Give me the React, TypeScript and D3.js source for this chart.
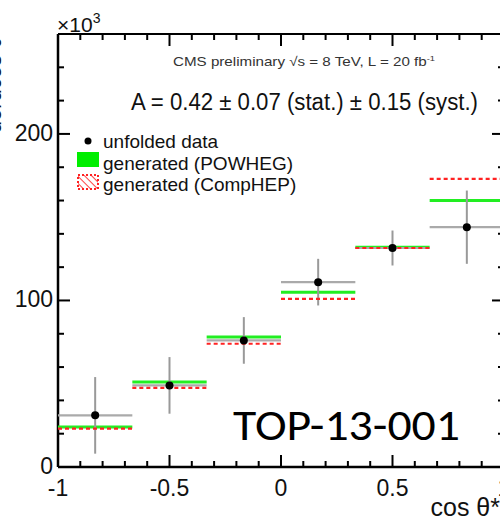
import React from "react";
import { scaleLinear, range } from "d3";

// unfolded cos(theta*) distribution, values in units of 10^3
const binEdges = [-1, -2 / 3, -1 / 3, 0, 1 / 3, 2 / 3, 1];
const dataValues = [31, 49, 76, 111, 131.5, 144];
const dataErrors = [23, 17, 14, 14, 10.5, 22];
const powheg = [24, 51, 78, 105, 132, 160];
const comphep = [23, 47.5, 74, 101, 131.5, 173];

const xTickLabels = [-1, -0.5, 0, 0.5, 1];
const yTickLabels = [0, 100, 200];

const legendItems = ["unfolded data", "generated (POWHEG)", "generated (CompHEP)"];

const W = 500;
const H = 521;
const left = 58;
const right = 504;
const top = 34;
const bottom = 467;

export default function App() {
  const x = scaleLinear().domain([-1, 1]).range([left, right]);
  const y = scaleLinear().domain([0, 260]).range([bottom, top]);

  const xMinor = range(-1, 1.0001, 0.1).map((d) => Math.round(d * 10) / 10);
  const yMinor = range(0, 261, 20);
  const font = "'Liberation Sans', Arial, sans-serif";

  const bins = dataValues.map((v, i) => ({
    x0: binEdges[i],
    x1: binEdges[i + 1],
    xc: (binEdges[i] + binEdges[i + 1]) / 2,
    v,
    err: dataErrors[i],
    pw: powheg[i],
    ch: comphep[i],
  }));

  return (
    <div style={{ position: "absolute", left: 0, top: 0 }}>
      <svg width={W} height={H} style={{ display: "block", background: "#fff" }}>
        <defs>
          <pattern id="hatch" width="5" height="5" patternUnits="userSpaceOnUse" patternTransform="rotate(-45)">
            <line x1="0" y1="0" x2="0" y2="5" stroke="#ff4444" strokeWidth="2" />
          </pattern>
        </defs>

        {/* frame */}
        <line x1={left} x2={W} y1={top} y2={top} stroke="#000" strokeWidth={2} />
        <line x1={left} x2={W} y1={bottom} y2={bottom} stroke="#000" strokeWidth={2.5} />
        <line x1={left} x2={left} y1={top} y2={bottom} stroke="#000" strokeWidth={2.5} />

        {/* x ticks */}
        {xMinor.map((t) => {
          const major = Math.abs(t * 2 - Math.round(t * 2)) < 1e-6;
          const len = major ? 12 : 6;
          return (
            <g key={"xt" + t}>
              <line x1={x(t)} x2={x(t)} y1={bottom} y2={bottom - len} stroke="#000" strokeWidth={2} />
              <line x1={x(t)} x2={x(t)} y1={top} y2={top + len} stroke="#000" strokeWidth={2} />
            </g>
          );
        })}
        {/* y ticks */}
        {yMinor.map((t) => {
          const major = t % 100 === 0;
          const len = major ? 12 : 6;
          return (
            <g key={"yt" + t}>
              <line x1={left} x2={left + len} y1={y(t)} y2={y(t)} stroke="#000" strokeWidth={2} />
              <line x1={right} x2={right - len} y1={y(t)} y2={y(t)} stroke="#000" strokeWidth={2} />
            </g>
          );
        })}

        {/* tick labels */}
        {xTickLabels.map((t) => (
          <text key={"xl" + t} x={x(t)} y={496} textAnchor="middle" fontFamily={font} fontSize={23} fill="#111">
            {t}
          </text>
        ))}
        {yTickLabels.map((t) => (
          <text key={"yl" + t} x={53} y={y(t) + 7} textAnchor="end" fontFamily={font} fontSize={23} fill="#111">
            {t}
          </text>
        ))}

        <text x={57} y={32} fontFamily={font} fontSize={21} fill="#111">
          ×10
          <tspan dy={-9} fontSize={14}>3</tspan>
        </text>

        <text x={500} y={516} textAnchor="end" fontFamily={font} fontSize={25} fill="#111">
          cos θ*
        </text>

        <text transform="translate(1,28) rotate(-90)" textAnchor="end" fontFamily={font} fontSize={22} fill="#111">
          dσ/dcos θ*
        </text>

        {/* generated distributions */}
        {bins.map((b, i) => (
          <line key={"pw" + i} x1={x(b.x0)} x2={x(b.x1)} y1={y(b.pw)} y2={y(b.pw)} stroke="#22ee22" strokeWidth={3} />
        ))}

        {/* unfolded data */}
        {bins.map((b, i) => (
          <g key={"dat" + i}>
            <line x1={x(b.x0)} x2={x(b.x1)} y1={y(b.v)} y2={y(b.v)} stroke="#aaa" strokeWidth={2.2} />
            <line
              x1={x(b.xc)}
              x2={x(b.xc)}
              y1={y(b.v + b.err)}
              y2={y(b.v - b.err)}
              stroke="#999"
              strokeWidth={2}
            />
          </g>
        ))}

        {bins.map((b, i) => (
          <line
            key={"ch" + i}
            x1={x(b.x0)}
            x2={x(b.x1)}
            y1={y(b.ch)}
            y2={y(b.ch)}
            stroke="#ff2222"
            strokeWidth={2.2}
            strokeDasharray="4,3"
          />
        ))}

        {bins.map((b, i) => (
          <circle key={"pt" + i} cx={x(b.xc)} cy={y(b.v)} r={4} fill="#000" />
        ))}

        {/* annotations */}
        <text x={304} y={66} textAnchor="middle" fontFamily={font} fontSize={13} fill="#333" textLength={262} lengthAdjust="spacingAndGlyphs">
          CMS preliminary √s = 8 TeV, L = 20 fb
          <tspan dy={-5} fontSize={8}>-1</tspan>
        </text>
        <text x={131} y={110} fontFamily={font} fontSize={23} fill="#111" textLength={347} lengthAdjust="spacingAndGlyphs">
          A = 0.42 ± 0.07 (stat.) ± 0.15 (syst.)
        </text>

        {/* legend */}
        <circle cx={88} cy={141} r={3.5} fill="#000" />
        <rect x={77} y={152} width={22} height={15} fill="#00ee00" />
        <rect x={78} y={175} width={20} height={14} fill="url(#hatch)" stroke="#ff2222" strokeWidth={2} strokeDasharray="2,2" />
        {legendItems.map((t, i) => (
          <text key={t} x={103} y={148 + i * 21.5} fontFamily={font} fontSize={19} fill="#111">
            {t}
          </text>
        ))}

        <text x={233} y={440} fontFamily="Carlito, Lato, 'Open Sans', sans-serif" fontSize={44} fill="#000" textLength={227} lengthAdjust="spacingAndGlyphs">
          TOP-13-001
        </text>
      </svg>
    </div>
  );
}
